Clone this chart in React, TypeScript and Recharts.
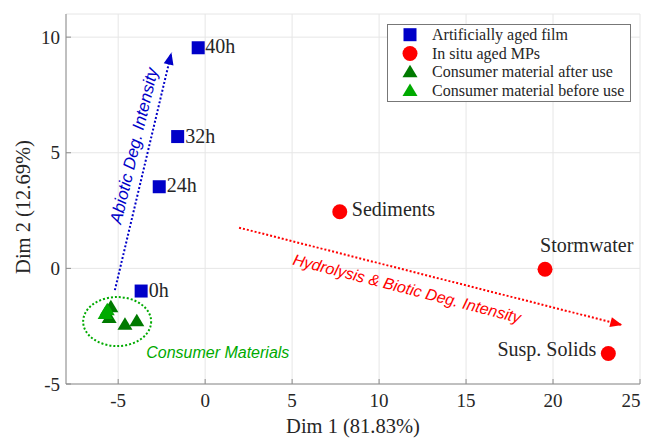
import React from 'react';
import { ScatterChart, Scatter, XAxis, YAxis, CartesianGrid, ReferenceLine, ReferenceDot } from 'recharts';

// artificially aged film (blue squares)
const filmLabels = ['0h', '24h', '32h', '40h'];
const filmDim1 = [-3.68, -2.64, -1.58, -0.4];
const filmDim2 = [-0.98, 3.53, 5.7, 9.54];

// in situ aged MPs (red circles)
const mpLabels = ['Sediments', 'Stormwater', 'Susp. Solids'];
const mpDim1 = [7.74, 19.54, 23.18];
const mpDim2 = [2.45, -0.04, -3.68];

// consumer material
const afterDim1 = [-5.52, -5.42, -4.61, -3.93];
const afterDim2 = [-2.15, -1.68, -2.44, -2.29];
const beforeDim1 = [-5.75, -5.63];
const beforeDim2 = [-1.97, -1.81];

const xTicks = [-5, 0, 5, 10, 15, 20, 25];
const yTicks = [-5, 0, 5, 10];

// annotation arrows [start, end]
const abioticArrow = [{ x: -5.19, y: -0.94 }, { x: -1.94, y: 9.33 }];
const bioticArrow = [{ x: 1.95, y: 1.76 }, { x: 23.98, y: -2.45 }];
const clusterCenter = { x: -5.06, y: -2.3 };

const BLUE = '#0000c8';
const RED = '#ff0000';
const DARK_GREEN = '#007a00';
const LIGHT_GREEN = '#00aa00';
const SERIF = '"Liberation Serif", "Times New Roman", serif';
const SANS = '"Liberation Sans", Arial, sans-serif';
const TEXT = '#262626';
const FRAME = '#8c8c8c';

const filmData = filmLabels.map((name, i) => ({ name, x: filmDim1[i], y: filmDim2[i] }));
const mpData = mpLabels.map((name, i) => ({ name, x: mpDim1[i], y: mpDim2[i] }));
const afterData = afterDim1.map((x, i) => ({ x, y: afterDim2[i] }));
const beforeData = beforeDim1.map((x, i) => ({ x, y: beforeDim2[i] }));

const labelPos: Record<string, { dx: number; dy: number; anchor: 'start' | 'middle' | 'end' }> = {
  '0h': { dx: 7.5, dy: 5.5, anchor: 'start' },
  '24h': { dx: 7.5, dy: 5.5, anchor: 'start' },
  '32h': { dx: 7.5, dy: 6, anchor: 'start' },
  '40h': { dx: 7, dy: 5.5, anchor: 'start' },
  Sediments: { dx: 12, dy: 4, anchor: 'start' },
  Stormwater: { dx: -5, dy: -17.5, anchor: 'start' },
  'Susp. Solids': { dx: -12, dy: 3, anchor: 'end' },
};

const PointLabel = ({ cx, cy, name }: { cx: number; cy: number; name: string }) => {
  const p = labelPos[name];
  return (
    <text x={cx + p.dx} y={cy + p.dy} textAnchor={p.anchor} fontFamily={SERIF} fontSize={20} fill={TEXT}>
      {name}
    </text>
  );
};

const squareShape = (props: any) => (
  <g>
    <rect x={props.cx - 6.5} y={props.cy - 6.5} width={13} height={13} fill={BLUE} />
    <PointLabel cx={props.cx} cy={props.cy} name={props.payload.name} />
  </g>
);

const circleShape = (props: any) => (
  <g>
    <circle cx={props.cx} cy={props.cy} r={7.5} fill={RED} />
    <PointLabel cx={props.cx} cy={props.cy} name={props.payload.name} />
  </g>
);

const triangle = (color: string) => (props: any) => (
  <polygon
    points={`${props.cx},${props.cy - 7.5} ${props.cx - 7.5},${props.cy + 5} ${props.cx + 7.5},${props.cy + 5}`}
    fill={color}
  />
);

const arrowHead = (color: string, angle: number) => (props: any) => (
  <polygon
    points="0,0 -12,-5 -12,5"
    fill={color}
    transform={`translate(${props.cx},${props.cy}) rotate(${angle})`}
  />
);

const rotatedText =
  (text: string, color: string, angle: number, anchor: 'start' | 'middle', size: number) => (props: any) => (
    <text
      x={props.cx}
      y={props.cy}
      transform={`rotate(${angle} ${props.cx} ${props.cy})`}
      textAnchor={anchor}
      dominantBaseline="central"
      fontFamily={SANS}
      fontStyle="italic"
      fontSize={size}
      fill={color}
    >
      {text}
    </text>
  );

const ellipseShape = (props: any) => (
  <ellipse
    cx={props.cx}
    cy={props.cy}
    rx={34}
    ry={24.5}
    fill="none"
    stroke={LIGHT_GREEN}
    strokeWidth={2}
    strokeDasharray="2 2"
  />
);

// last x label sits inside the frame like in the original figure
const XTick = (props: any) => {
  const v = props.payload.value;
  const shift = v === 25 ? -9 : 0;
  return (
    <text
      x={props.x + shift}
      y={props.y}
      dy="0.71em"
      textAnchor="middle"
      fontFamily={SERIF}
      fontSize={19}
      fill={TEXT}
    >
      {v}
    </text>
  );
};

const legendItems = [
  { label: 'Artificially aged film', kind: 'square', color: BLUE },
  { label: 'In situ aged MPs', kind: 'circle', color: RED },
  { label: 'Consumer material after use', kind: 'triangle', color: DARK_GREEN },
  { label: 'Consumer material before use', kind: 'triangle', color: LIGHT_GREEN },
];

function LegendBox() {
  return (
    <svg width={244} height={78} style={{ position: 'absolute', left: 379, top: 16 }}>
      <rect x={0.5} y={0.5} width={243} height={77} fill="#fff" stroke="#777" />
      {legendItems.map((it, i) => {
        const cy = 10.7 + i * 18.8;
        return (
          <g key={it.label}>
            {it.kind === 'square' && <rect x={16.5} y={cy - 6.5} width={13} height={13} fill={it.color} />}
            {it.kind === 'circle' && <circle cx={23} cy={cy} r={7.5} fill={it.color} />}
            {it.kind === 'triangle' && (
              <polygon points={`23,${cy - 7.5} 15.5,${cy + 5} 30.5,${cy + 5}`} fill={it.color} />
            )}
            <text x={45} y={cy + 5} fontFamily={SERIF} fontSize={16} fill={TEXT}>
              {it.label}
            </text>
          </g>
        );
      })}
    </svg>
  );
}

export default function App() {
  return (
    <div style={{ position: 'relative', width: 644, height: 430 }}>
      <ScatterChart width={644} height={430} margin={{ top: 6, right: 12, bottom: 0, left: 0 }}>
        <CartesianGrid stroke="#e6e6e6" />
        <XAxis
          type="number"
          dataKey="x"
          domain={[-8, 25]}
          ticks={xTicks}
          allowDataOverflow
          height={54}
          tickSize={-5}
          tickMargin={15}
          stroke={FRAME}
          tick={<XTick />}
          label={(p: any) => (
            <text
              x={p.viewBox.x + p.viewBox.width / 2}
              y={p.viewBox.y + 49}
              textAnchor="middle"
              fontFamily={SERIF}
              fontSize={20.5}
              fill={TEXT}
            >
              Dim 1 (81.83%)
            </text>
          )}
        />
        <YAxis
          type="number"
          dataKey="y"
          domain={[-5, 11]}
          ticks={yTicks}
          allowDataOverflow
          width={58}
          tickSize={-5}
          tickMargin={11}
          stroke={FRAME}
          tick={{ fill: TEXT, fontFamily: SERIF, fontSize: 19 }}
          label={(p: any) => {
            const x = p.viewBox.x + 15;
            const y = p.viewBox.y + p.viewBox.height / 2 + 8;
            return (
              <text
                x={x}
                y={y}
                transform={`rotate(-90 ${x} ${y})`}
                textAnchor="middle"
                dominantBaseline="central"
                fontFamily={SERIF}
                fontSize={20.5}
                fill={TEXT}
              >
                Dim 2 (12.69%)
              </text>
            );
          }}
        />
        <XAxis xAxisId="top" orientation="top" type="number" domain={[-8, 25]} ticks={xTicks} height={0} tickSize={-5} tick={false} stroke={FRAME} />
        <YAxis yAxisId="right" orientation="right" type="number" domain={[-5, 11]} ticks={yTicks} width={0} tickSize={-5} tick={false} stroke={FRAME} />

        <ReferenceLine segment={abioticArrow} stroke={BLUE} strokeWidth={2} strokeDasharray="2 2" />
        <ReferenceLine segment={bioticArrow} stroke={RED} strokeWidth={2} strokeDasharray="2 2" />
        <ReferenceDot x={abioticArrow[1].x} y={abioticArrow[1].y} shape={arrowHead(BLUE, -76.6)} />
        <ReferenceDot x={bioticArrow[1].x} y={bioticArrow[1].y} shape={arrowHead(RED, 14.2)} />
        <ReferenceDot x={-4.08} y={5.3} shape={rotatedText('Abiotic Deg. Intensity', BLUE, -76.6, 'middle', 17)} />
        <ReferenceDot x={11.6} y={-0.87} shape={rotatedText('Hydrolysis & Biotic Deg. Intensity', RED, 14.5, 'middle', 16)} />
        <ReferenceDot x={-3.39} y={-3.62} shape={rotatedText('Consumer Materials', LIGHT_GREEN, 0, 'start', 16)} />
        <ReferenceDot x={clusterCenter.x} y={clusterCenter.y} shape={ellipseShape} />

        <Scatter name="Artificially aged film" data={filmData} shape={squareShape} isAnimationActive={false} />
        <Scatter name="In situ aged MPs" data={mpData} shape={circleShape} isAnimationActive={false} />
        <Scatter name="Consumer material after use" data={afterData} shape={triangle(DARK_GREEN)} isAnimationActive={false} />
        <Scatter name="Consumer material before use" data={beforeData} shape={triangle(LIGHT_GREEN)} isAnimationActive={false} />
      </ScatterChart>
      <LegendBox />
    </div>
  );
}
